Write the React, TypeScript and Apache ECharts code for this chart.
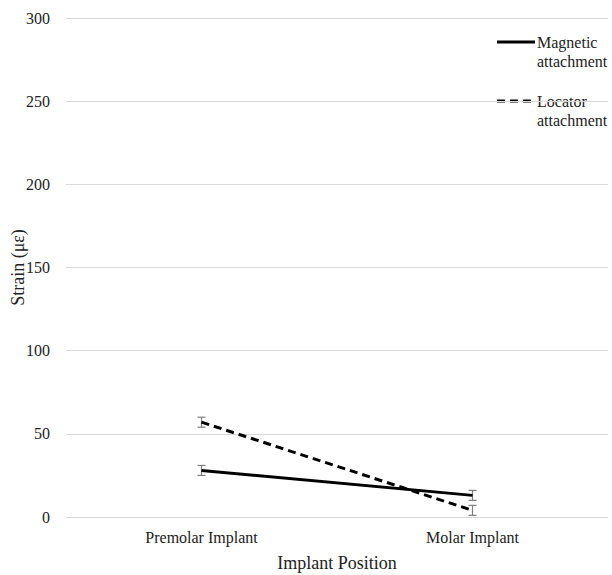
import React, { useEffect, useRef } from "react";
import * as echarts from "echarts";

const categories = ["Premolar Implant", "Molar Implant"];
const magnetic = [28, 13];
const magneticErr = [3, 3];
const locator = [57, 4];
const locatorErr = [3, 3];
const yTicks = { min: 0, max: 300, interval: 50 };

const FONT = "Liberation Serif";

function errorSeries(values: number[], errs: number[]) {
  const data = values.map((v, i) => [i, v - errs[i], v + errs[i]]);
  return {
    type: "custom",
    silent: true,
    z: 1,
    data,
    renderItem: (params: any, api: any) => {
      const x = api.value(0);
      const lo = api.coord([x, api.value(1)]);
      const hi = api.coord([x, api.value(2)]);
      const w = 4;
      const style = { stroke: "#7f7f7f", lineWidth: 1.2 };
      return {
        type: "group",
        children: [
          { type: "line", shape: { x1: lo[0], y1: lo[1], x2: hi[0], y2: hi[1] }, style },
          { type: "line", shape: { x1: lo[0] - w, y1: lo[1], x2: lo[0] + w, y2: lo[1] }, style },
          { type: "line", shape: { x1: hi[0] - w, y1: hi[1], x2: hi[0] + w, y2: hi[1] }, style },
        ],
      };
    },
  };
}

export default function App() {
  const ref = useRef<HTMLDivElement>(null);
  useEffect(() => {
    document.body.style.margin = "0";
    const chart = echarts.init(ref.current!, null, { renderer: "svg" });
    chart.setOption({
      animation: false,
      textStyle: { fontFamily: FONT },
      grid: { left: 66, right: 4, top: 18, bottom: 58, outerBoundsMode: "none", containLabel: false },
      xAxis: {
        type: "category",
        data: categories,
        axisTick: { show: false },
        axisLine: { show: false },
        axisLabel: { color: "#222", fontSize: 16, fontFamily: FONT, margin: 12 },
        name: "Implant Position",
        nameLocation: "middle",
        nameGap: 37,
        nameMoveOverlap: false,
        nameTextStyle: { color: "#222", fontSize: 18, fontFamily: FONT },
      },
      yAxis: {
        type: "value",
        min: yTicks.min,
        max: yTicks.max,
        interval: yTicks.interval,
        axisLine: { show: false },
        axisTick: { show: false },
        splitLine: { lineStyle: { color: "#d9d9d9", width: 1 } },
        axisLabel: { color: "#222", fontSize: 16, fontFamily: FONT, margin: 16 },
        name: "Strain (με)",
        nameLocation: "middle",
        nameGap: 39,
        nameMoveOverlap: false,
        nameRotate: 90,
        nameTextStyle: { color: "#222", fontSize: 18, fontFamily: FONT },
      },
      series: [
        {
          name: "Magnetic attachment",
          type: "line",
          data: magnetic,
          symbol: "none",
          z: 3,
          lineStyle: { color: "#000", width: 3 },
        },
        {
          name: "Locator attachment",
          type: "line",
          data: locator,
          symbol: "none",
          z: 3,
          lineStyle: { color: "#000", width: 3, type: [8, 5] },
        },
        errorSeries(magnetic, magneticErr),
        errorSeries(locator, locatorErr),
      ],
      graphic: [
        { type: "line", shape: { x1: 497, y1: 42, x2: 535, y2: 42 }, style: { stroke: "#000", lineWidth: 3 } },
        {
          type: "text",
          x: 537,
          y: 33,
          style: { text: "Magnetic\nattachment", fontFamily: FONT, fontSize: 16, fill: "#222", lineHeight: 19 },
        },
        { type: "line", shape: { x1: 497, y1: 101, x2: 535, y2: 101 }, style: { stroke: "#000", lineWidth: 3, lineDash: [8, 5] } },
        {
          type: "text",
          x: 537,
          y: 92,
          style: { text: "Locator\nattachment", fontFamily: FONT, fontSize: 16, fill: "#222", lineHeight: 19 },
        },
      ],
    });
    return () => chart.dispose();
  }, []);
  return <div ref={ref} style={{ width: 612, height: 575 }} />;
}
